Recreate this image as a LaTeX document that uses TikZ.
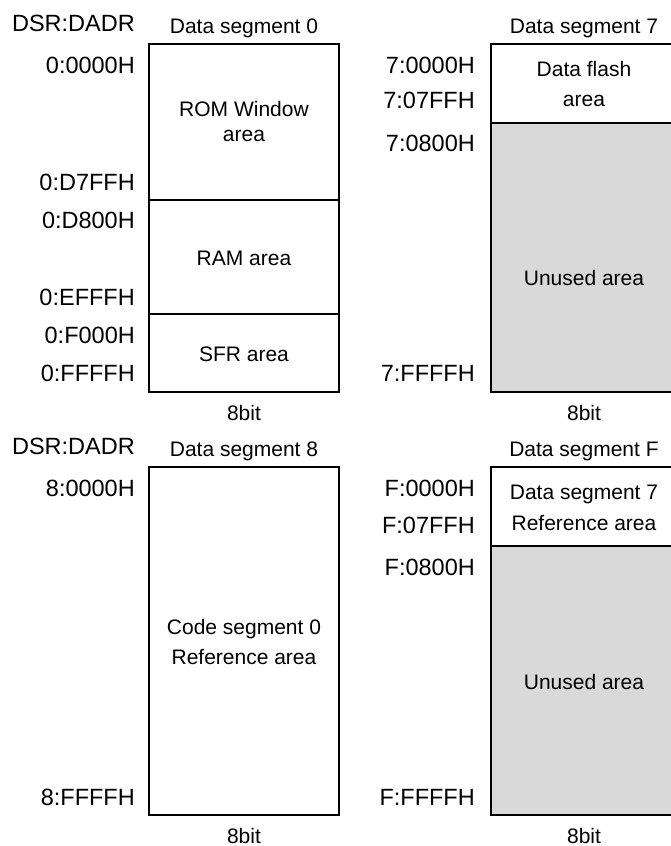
\documentclass[tikz,border=0pt]{standalone}
\usepackage{fontspec}
\setmainfont{Liberation Sans}
\definecolor{unusedgray}{RGB}{217,217,217}
\begin{document}
\begin{tikzpicture}[x=1pt,y=-1pt,
  boxline/.style={line width=2.7pt},
  unusedfill/.style={fill=unusedgray},
  addr/.style={anchor=base east, inner sep=0pt, font=\fontsize{23.5}{28}\selectfont},
  lbl/.style={anchor=base, inner sep=0pt, font=\fontsize{21}{25}\selectfont},
]
\useasboundingbox (0,0) rectangle (670,846);

% ---------- Top left: Data segment 0 ----------
\draw[boxline] (149,44) rectangle (339,392);
\draw[boxline] (149,200) -- (339,200);
\draw[boxline] (149,314) -- (339,314);
\node[addr] (hdrA) at (135,31.7) {DSR:DADR};
\node[lbl] (segA) at (244,33) {Data segment 0};
\node[addr] (a1) at (135,73.4) {0:0000H};
\node[addr] (a2) at (135,190.4) {0:D7FFH};
\node[addr] (a3) at (135,228.4) {0:D800H};
\node[addr] (a4) at (135,305.4) {0:EFFFH};
\node[addr] (a5) at (135,343.4) {0:F000H};
\node[addr] (a6) at (135,381.4) {0:FFFFH};
\node[lbl] (romA) at (244,116.7) {ROM Window};
\node[lbl] (romB) at (244,141.7) {area};
\node[lbl] (ram) at (244,265) {RAM area};
\node[lbl] (sfr) at (244,361.7) {SFR area};
\node[lbl] (bitA) at (244,420.7) {8bit};

% ---------- Top right: Data segment 7 ----------
\fill[unusedfill] (491,123) rectangle (681,392);
\draw[boxline] (491,44) rectangle (681,392);
\draw[boxline] (491,123) -- (681,123);
\node[lbl] (segB) at (584,33) {Data segment 7};
\node[addr] (b1) at (475,73.4) {7:0000H};
\node[addr] (b2) at (475,108.3) {7:07FFH};
\node[addr] (b3) at (475,151.7) {7:0800H};
\node[addr] (b4) at (475,381.4) {7:FFFFH};
\node[lbl] (dfA) at (584,76) {Data flash};
\node[lbl] (dfB) at (584,106.7) {area};
\node[lbl] (unB) at (584,285) {Unused area};
\node[lbl] (bitB) at (584,420.7) {8bit};

% ---------- Bottom left: Data segment 8 ----------
\draw[boxline] (149,467) rectangle (339,815);
\node[addr] (hdrC) at (135,454.7) {DSR:DADR};
\node[lbl] (segC) at (244,456) {Data segment 8};
\node[addr] (c1) at (135,496.3) {8:0000H};
\node[addr] (c2) at (135,805.7) {8:FFFFH};
\node[lbl] (csA) at (244,634.7) {Code segment 0};
\node[lbl] (csB) at (244,664.7) {Reference area};
\node[lbl] (bitC) at (244,843.2) {8bit};

% ---------- Bottom right: Data segment F ----------
\fill[unusedfill] (491,546) rectangle (681,815);
\draw[boxline] (491,467) rectangle (681,815);
\draw[boxline] (491,546) -- (681,546);
\node[lbl] (segD) at (584,456) {Data segment F};
\node[addr] (d1) at (475,496.3) {F:0000H};
\node[addr] (d2) at (475,533) {F:07FFH};
\node[addr] (d3) at (475,575.7) {F:0800H};
\node[addr] (d4) at (475,805.7) {F:FFFFH};
\node[lbl] (drA) at (584,499) {Data segment 7};
\node[lbl] (drB) at (584,530.3) {Reference area};
\node[lbl] (unD) at (584,689.7) {Unused area};
\node[lbl] (bitD) at (584,843.2) {8bit};
\end{tikzpicture}
\end{document}
